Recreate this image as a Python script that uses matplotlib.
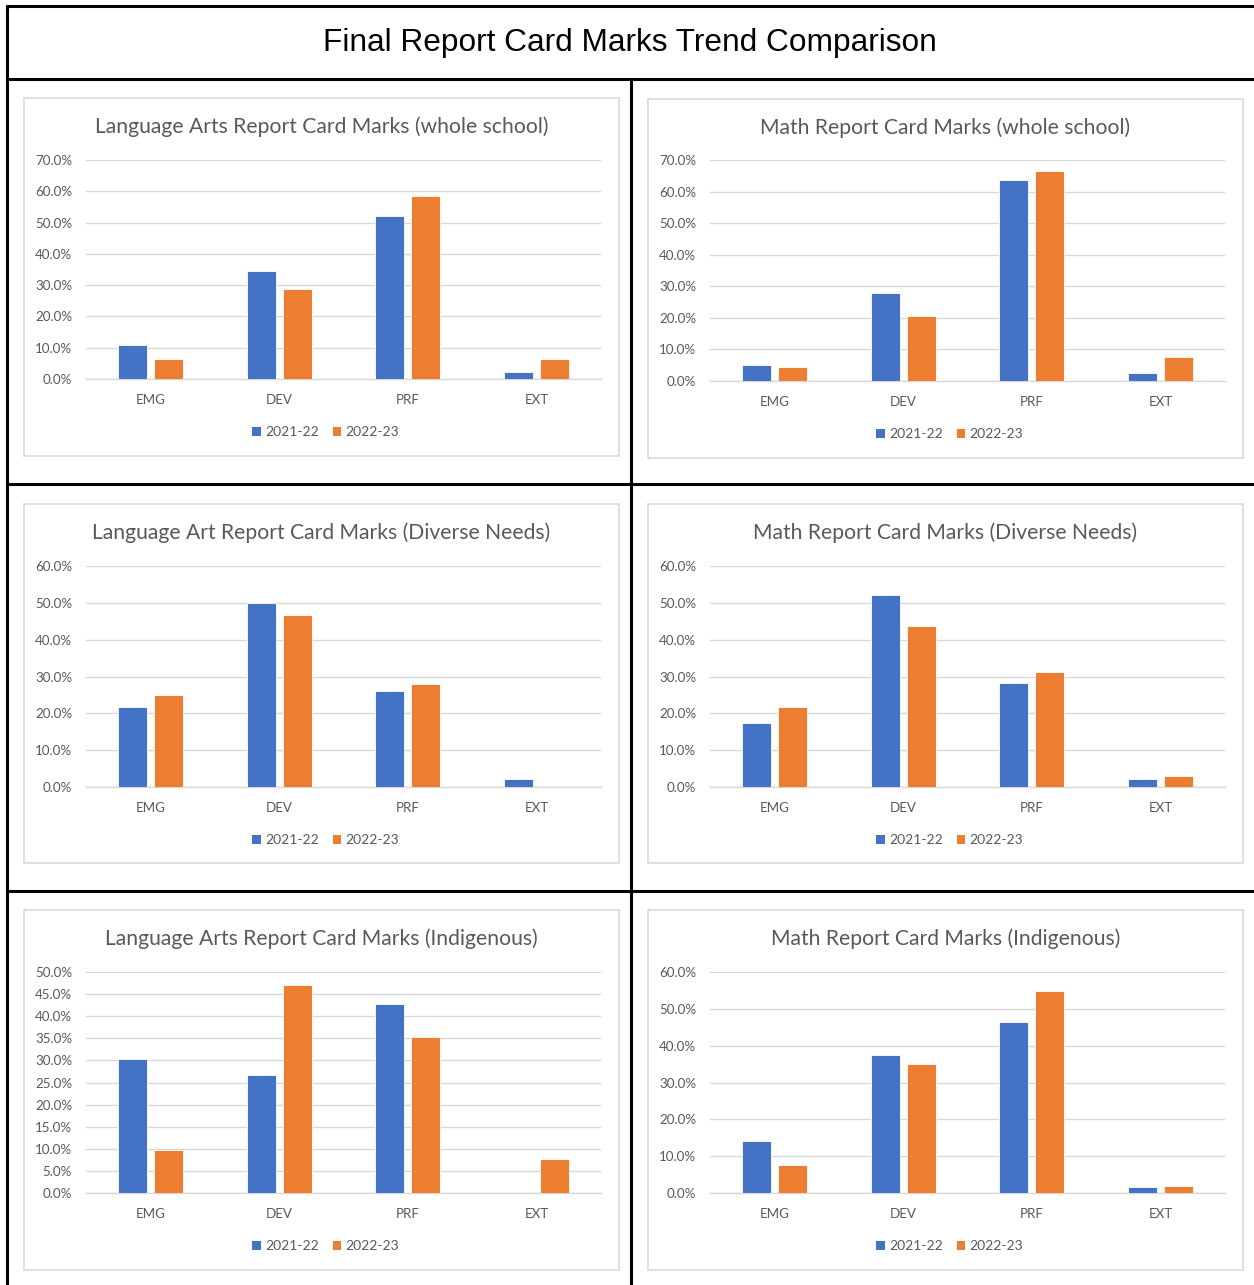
import matplotlib
matplotlib.use("Agg")
import matplotlib.pyplot as plt
from matplotlib.lines import Line2D
from matplotlib.patches import Rectangle, Patch
from matplotlib.ticker import FuncFormatter, MultipleLocator

# ---------------- data ----------------
categories = ["EMG", "DEV", "PRF", "EXT"]
series_names = ["2021-22", "2022-23"]

la_whole_2122 = [0.110, 0.345, 0.522, 0.023]
la_whole_2223 = [0.064, 0.289, 0.586, 0.064]

math_whole_2122 = [0.052, 0.280, 0.638, 0.026]
math_whole_2223 = [0.043, 0.207, 0.666, 0.076]

la_diverse_2122 = [0.217, 0.500, 0.260, 0.021]
la_diverse_2223 = [0.249, 0.468, 0.280, 0.0]

math_diverse_2122 = [0.173, 0.521, 0.282, 0.021]
math_diverse_2223 = [0.218, 0.436, 0.312, 0.029]

la_indig_2122 = [0.304, 0.267, 0.428, 0.0]
la_indig_2223 = [0.097, 0.470, 0.352, 0.077]

math_indig_2122 = [0.142, 0.375, 0.464, 0.016]
math_indig_2223 = [0.077, 0.350, 0.549, 0.018]

main_title = "Final Report Card Marks Trend Comparison"
chart_titles = [
    "Language Arts Report Card Marks (whole school)",
    "Math Report Card Marks (whole school)",
    "Language Art Report Card Marks (Diverse Needs)",
    "Math Report Card Marks (Diverse Needs)",
    "Language Arts Report Card Marks (Indigenous)",
    "Math Report Card Marks (Indigenous)",
]
chart_series = [
    (la_whole_2122, la_whole_2223),
    (math_whole_2122, math_whole_2223),
    (la_diverse_2122, la_diverse_2223),
    (math_diverse_2122, math_diverse_2223),
    (la_indig_2122, la_indig_2223),
    (math_indig_2122, math_indig_2223),
]
y_max = [0.7, 0.7, 0.6, 0.6, 0.5, 0.6]
y_step = [0.1, 0.1, 0.1, 0.1, 0.05, 0.1]

# ---------------- layout (pixels) ----------------
W, H = 1254, 1285
BLUE = "#4472C4"
ORANGE = "#ED7D31"
GRAY_TXT = "#595959"
GRID = "#D9D9D9"
FONT = ["Lato", "DejaVu Sans"]

# chart boxes (x0, y0, x1, y1) and plot areas (left, right, top, zero)
boxes = [
    (24, 98, 619, 456), (648, 99, 1243, 458),
    (24, 504, 619, 863), (648, 504, 1243, 863),
    (24, 910, 619, 1270), (648, 910, 1243, 1270),
]
plots = [
    (86, 601, 160, 379), (710, 1225, 160, 381),
    (86, 601, 566, 787), (710, 1225, 566, 787),
    (86, 601, 972, 1193), (710, 1225, 972, 1193),
]

fig = plt.figure(figsize=(W / 100, H / 100), dpi=100)
fig.patch.set_facecolor("white")


def fx(x):
    return x / W


def fy(y):
    return 1 - y / H


# table lines
def hline(y, x0, x1, lw=2.2):
    fig.add_artist(Line2D([fx(x0), fx(x1)], [fy(y), fy(y)], color="black", lw=lw,
                          transform=fig.transFigure, solid_capstyle="butt"))


def vline(x, y0, y1, lw=2.2):
    fig.add_artist(Line2D([fx(x), fx(x)], [fy(y0), fy(y1)], color="black", lw=lw,
                          transform=fig.transFigure, solid_capstyle="butt"))


hline(6, 6, W)
hline(78.5, 6, W)
hline(484, 6, W)
hline(891, 6, W)
vline(7, 5, H)
vline(631, 78, H)

fig.text(fx(630), fy(43.5), main_title, ha="center", va="center",
         fontsize=22.8, family=["Liberation Sans", "DejaVu Sans"], color="black")

for i in range(6):
    bx0, by0, bx1, by1 = boxes[i]
    fig.add_artist(Rectangle((fx(bx0), fy(by1)), fx(bx1) - fx(bx0), fy(by0) - fy(by1),
                             transform=fig.transFigure, fill=False,
                             edgecolor=GRID, lw=1.2))
    pl, pr, pt, pz = plots[i]
    ax = fig.add_axes([fx(pl), fy(pz), fx(pr) - fx(pl), fy(pt) - fy(pz)])
    s1, s2 = chart_series[i]
    xs = list(range(len(categories)))
    bw = 0.225
    off = 0.14
    ax.bar([x - off for x in xs], s1, width=bw, color=BLUE, edgecolor="white",
           linewidth=0.6, zorder=3, label=series_names[0])
    ax.bar([x + off for x in xs], s2, width=bw, color=ORANGE, edgecolor="white",
           linewidth=0.6, zorder=3, label=series_names[1])
    ax.set_xlim(-0.5, len(categories) - 0.5)
    ax.set_ylim(0, y_max[i])
    ax.yaxis.set_major_locator(MultipleLocator(y_step[i]))
    ax.yaxis.set_major_formatter(FuncFormatter(lambda v, p: f"{v * 100:.1f}%"))
    ax.grid(axis="y", color=GRID, lw=1.0, zorder=0)
    ax.set_axisbelow(True)
    for sp in ["top", "right", "left"]:
        ax.spines[sp].set_visible(False)
    ax.spines["bottom"].set_color(GRID)
    ax.spines["bottom"].set_linewidth(1.0)
    ax.set_xticks(xs)
    ax.set_xticklabels(categories)
    ax.tick_params(axis="both", length=0, colors=GRAY_TXT, labelsize=9.6)
    ax.tick_params(axis="x", pad=10.5)
    ax.tick_params(axis="y", pad=10)
    for lab in ax.get_xticklabels() + ax.get_yticklabels():
        lab.set_family(FONT)
        lab.set_color(GRAY_TXT)
    ax.patch.set_alpha(0)

    cx = (bx0 + bx1) / 2
    fig.text(fx(cx), fy(by0 + 29), chart_titles[i], ha="center", va="center",
             fontsize=15.2, color=GRAY_TXT, family=FONT)

    handles = [Patch(facecolor=BLUE), Patch(facecolor=ORANGE)]
    fig.legend(handles, series_names, loc="center",
               bbox_to_anchor=(fx(cx + 4), fy(pz + 53)), ncol=2, frameon=False,
               prop={"family": FONT, "size": 10}, labelcolor=GRAY_TXT,
               handlelength=0.6, handleheight=0.6, handletextpad=0.3,
               columnspacing=1.0, borderpad=0)

fig.savefig("out.png", dpi=100, facecolor="white")
